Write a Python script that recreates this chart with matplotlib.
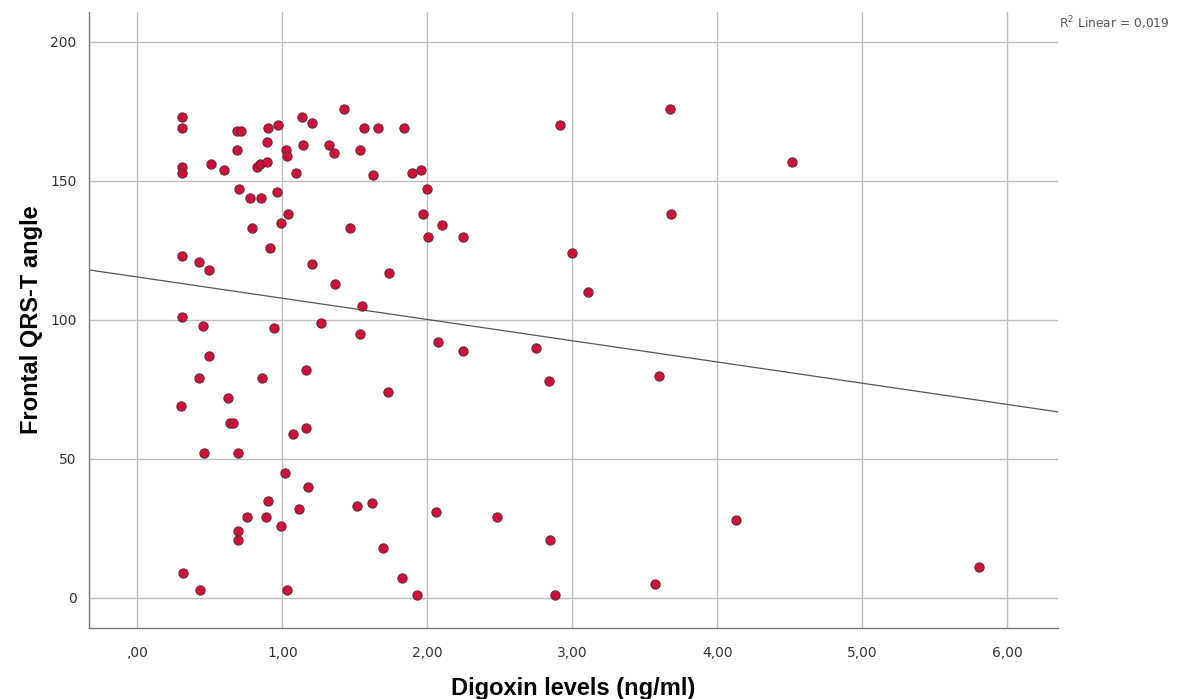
import numpy as np
import matplotlib.pyplot as plt

# digoxin level (ng/ml) and frontal QRS-T angle
digoxin = [0.305, 0.31, 0.305, 0.305, 0.51, 0.60, 0.684, 0.716, 0.684, 0.90,
           0.971, 0.895, 0.822, 0.845, 0.895, 1.024, 1.033, 1.093, 1.132, 1.206,
           1.144, 1.323, 1.355, 1.424, 1.562, 1.656, 1.534, 1.622, 0.702, 0.774,
           0.854, 0.96, 1.04, 0.99, 0.792, 1.466, 0.912, 0.305, 0.424, 0.493,
           1.206, 1.362, 1.546, 0.305, 0.454, 0.944, 1.266, 1.534,
           0.493, 0.424, 0.861, 1.164, 0.302, 0.622, 0.64, 0.66, 1.07, 1.164,
           0.461, 0.695, 1.015, 1.174, 0.902, 0.755, 0.884, 1.112, 0.99, 0.695,
           0.695, 1.511, 1.615, 0.312, 0.433, 1.033,
           1.836, 1.893, 1.955, 1.997, 1.967, 2.098, 2.006, 2.247, 1.737, 2.916,
           2.999, 3.107, 2.075, 2.247, 2.746,
           1.725, 2.838, 3.599, 2.056, 2.477, 2.847, 1.691, 1.824, 1.928, 2.877,
           3.569, 3.670, 4.512, 3.679, 4.13, 5.806]
qrst = [173, 169, 155, 153, 156, 154, 168, 168, 161, 169,
        170, 164, 155, 156, 157, 161, 159, 153, 173, 171,
        163, 163, 160, 176, 169, 169, 161, 152, 147, 144,
        144, 146, 138, 135, 133, 133, 126, 123, 121, 118,
        120, 113, 105, 101, 98, 97, 99, 95,
        87, 79, 79, 82, 69, 72, 63, 63, 59, 61,
        52, 52, 45, 40, 35, 29, 29, 32, 26, 24,
        21, 33, 34, 9, 3, 3,
        169, 153, 154, 147, 138, 134, 130, 130, 117, 170,
        124, 110, 92, 89, 90,
        74, 78, 80, 31, 29, 21, 18, 7, 1, 1,
        5, 176, 157, 138, 28, 11]

x_ticks = [0, 1, 2, 3, 4, 5, 6]
x_tick_labels = [',00', '1,00', '2,00', '3,00', '4,00', '5,00', '6,00']
y_ticks = [0, 50, 100, 150, 200]
r2_text = 'R$^2$ Linear = 0,019'

x = np.array(digoxin)
y = np.array(qrst)
# linear fit line
slope, intercept = np.polyfit(x, y, 1)

fig = plt.figure(figsize=(11.98, 6.99), dpi=100)
ax = fig.add_axes([0.0743, 0.1016, 0.8089, 0.8813])

xmin, xmax = -0.334, 6.35
ax.set_xlim(xmin, xmax)
ax.set_ylim(-10.8, 210.8)

ax.grid(True, color='#bdbdbd', linewidth=1.0)
ax.set_axisbelow(True)

xs = np.array([xmin, xmax])
ax.plot(xs, intercept + slope * xs, color='#555555', linewidth=0.9, zorder=2)

ax.scatter(x, y, s=44, facecolor='#d0103a', edgecolor='#6a2a3a',
           linewidth=0.8, zorder=3)

ax.set_xticks(x_ticks)
ax.set_xticklabels(x_tick_labels)
ax.set_yticks(y_ticks)
ax.tick_params(length=0, labelsize=10, colors='#333333', pad=13)
ax.tick_params(axis='y', pad=9)

for side in ['top', 'right']:
    ax.spines[side].set_visible(False)
for side in ['left', 'bottom']:
    ax.spines[side].set_color('#777777')
    ax.spines[side].set_linewidth(1.0)

ax.set_xlabel('Digoxin levels (ng/ml)', fontsize=17, fontweight='bold',
              family='Liberation Sans', labelpad=12)
ax.set_ylabel('Frontal QRS-T angle', fontsize=17, fontweight='bold',
              family='Liberation Sans', labelpad=5)

fig.text(0.884, 0.960, r2_text, fontsize=8.8, color='#555555')

fig.savefig('out.png', dpi=100)
